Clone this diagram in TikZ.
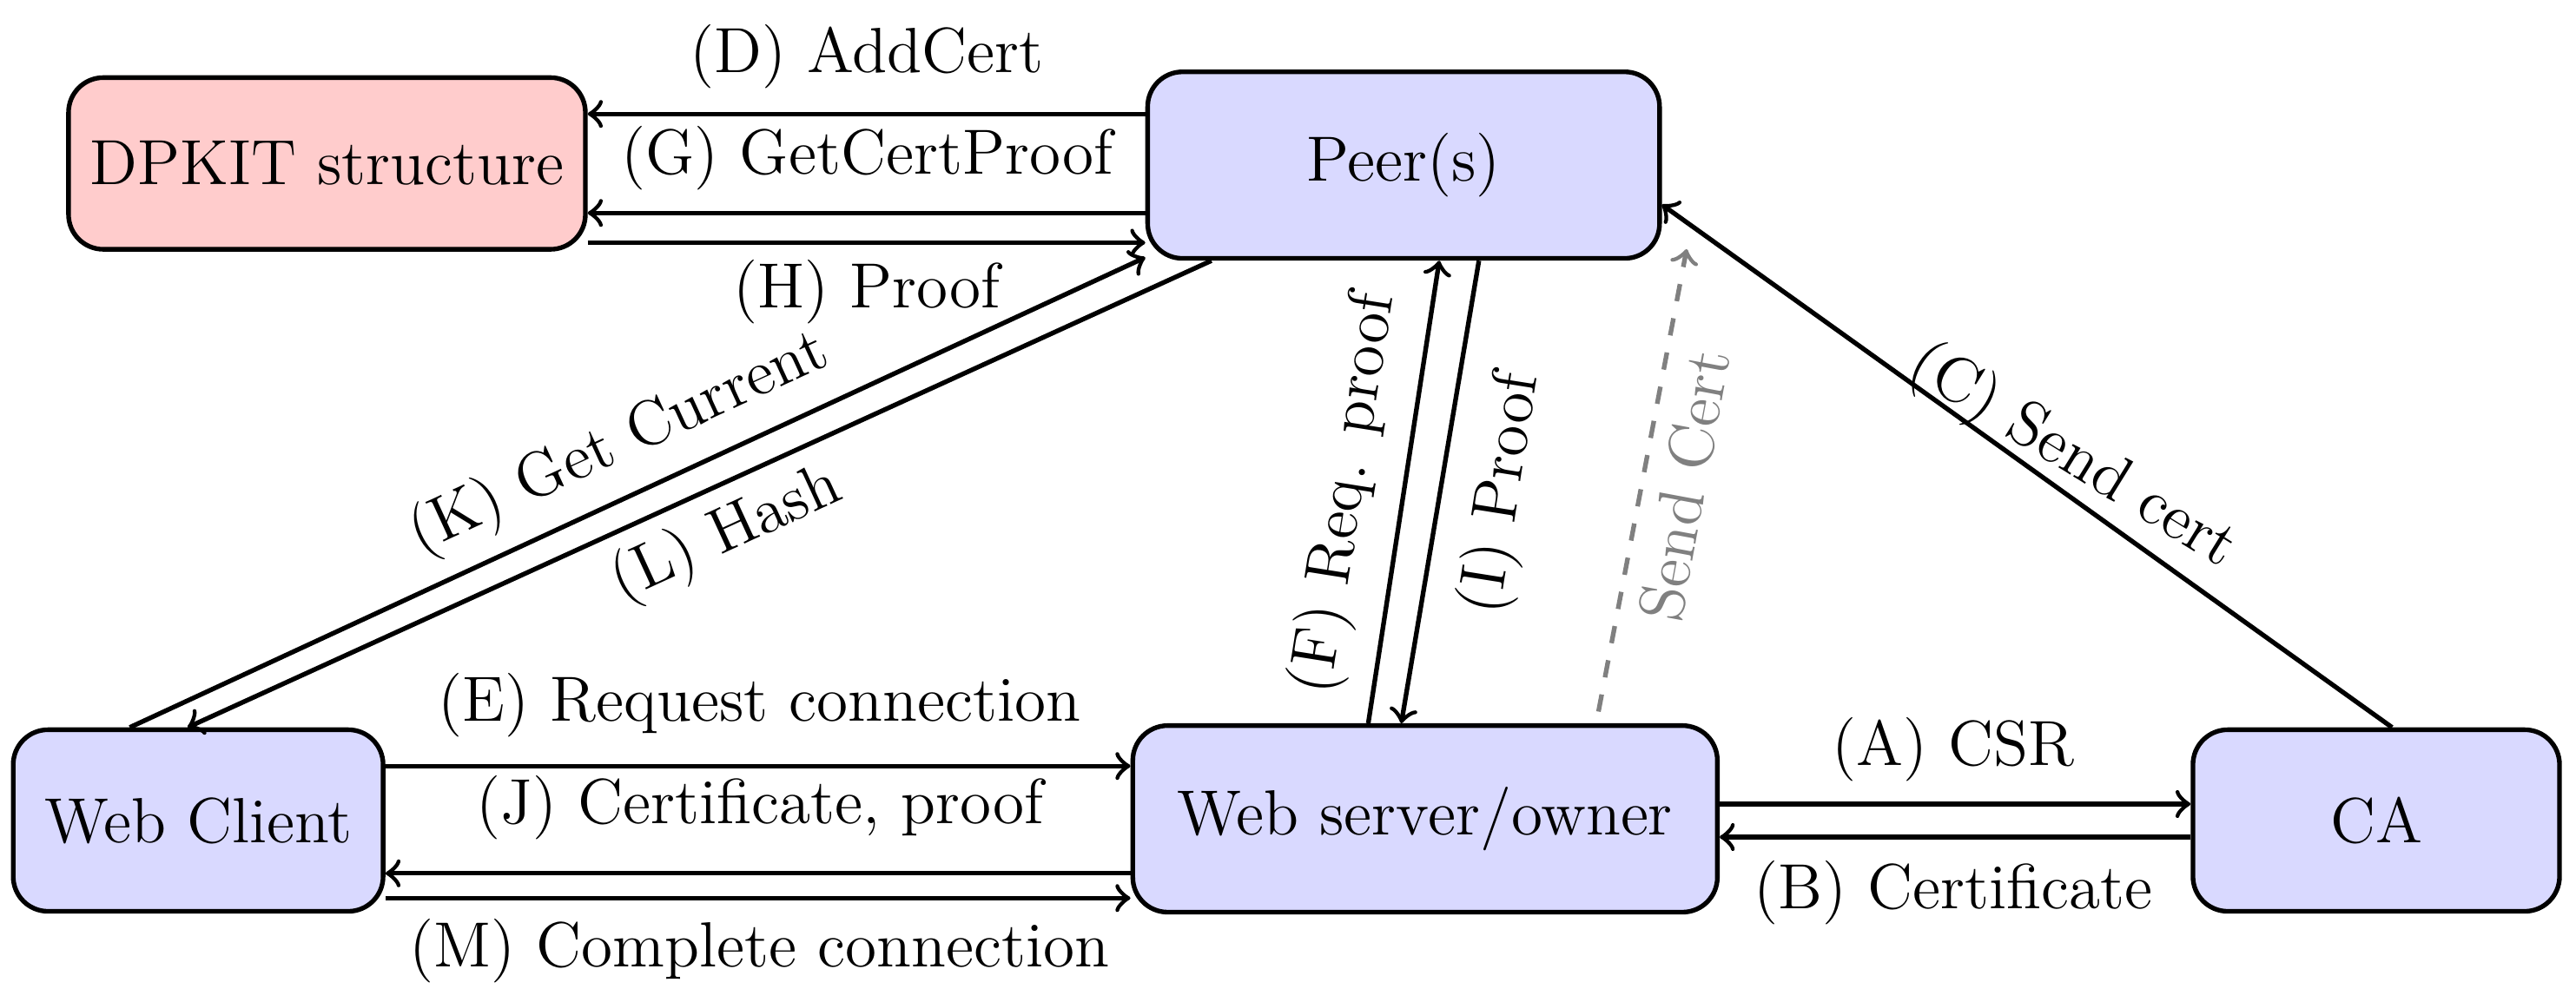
\documentclass[tikz,border=0pt]{standalone}
\usetikzlibrary{calc}
\begin{document}
\begin{tikzpicture}[font=\fontsize{11}{13}\selectfont,
  box/.style={draw, thick, rounded corners=6pt, fill=blue!15, inner sep=1pt, minimum height=1.1cm},
  arr/.style={thick, ->}]
\useasboundingbox (0,0) rectangle (15.6,5.99);

\node[box, fill=red!20, minimum width=3.13cm, minimum height=1.04cm] (dpkit) at (1.98,5.0) {DPKIT structure};
\node[box, minimum width=3.10cm, minimum height=1.13cm] (peer) at (8.50,4.99) {Peer(s)};
\node[box, minimum width=2.24cm] (client) at (1.20,1.02) {Web Client};
\node[box, minimum width=3.54cm, minimum height=1.13cm] (server) at (8.63,1.03) {Web server/owner};
\node[box, minimum width=2.22cm] (ca) at (14.39,1.02) {CA};

% DPKIT <-> Peer
\draw[arr] (peer.west |- 0,5.30) -- (dpkit.east |- 0,5.30);
\draw[arr] (peer.west |- 0,4.70) -- (dpkit.east |- 0,4.70);
\draw[arr] (dpkit.east |- 0,4.52) -- (peer.west |- 0,4.52);
\node at (5.25,5.65) {(D) AddCert};
\node at (5.25,5.03) {(G) GetCertProof};
\node at (5.25,4.22) {(H) Proof};

% Client <-> Peer
\draw[arr] ($(client.north west)+(0.72,0)$) -- ($(peer.south west)+(0,0.02)$);
\draw[arr] ($(peer.south west)+(0.40,0)$) -- ($(client.north west)+(1.07,0)$);
\node[rotate=24.7] at (3.75,3.30) {(K) Get Current};
\node[rotate=24.7] at (4.40,2.75) {(L) Hash};

% Server <-> Peer
\draw[arr] ($(server.north west)+(1.44,0)$) -- ($(peer.south west)+(1.78,0)$);
\draw[arr] ($(peer.south west)+(2.02,0)$) -- ($(server.north west)+(1.64,0)$);
\node[rotate=81] at (8.15,3.00) {(F) Req. proof};
\node[rotate=81] at (9.10,3.00) {(I) Proof};

% Send Cert
\draw[arr, dashed, gray] (9.68,1.68) -- ($(peer.south east)+(0.15,0.07)$);
\node[rotate=79.5, gray] at (10.20,3.05) {Send Cert};

% CA -> Peer
\draw[arr] ($(ca.north west)+(1.22,0)$) -- ($(peer.south east)+(0,0.34)$);
\node[rotate=-31.7] at (12.55,3.22) {(C) Send cert};

% Client <-> Server
\draw[arr] (client.east |- 0,1.35) -- (server.west |- 0,1.35);
\draw[arr] (server.west |- 0,0.70) -- (client.east |- 0,0.70);
\draw[arr] (client.east |- 0,0.55) -- (server.west |- 0,0.55);
\node at (4.60,1.72) {(E) Request connection};
\node at (4.60,1.10) {(J) Certificate, proof};
\node at (4.60,0.23) {(M) Complete connection};

% Server <-> CA
\draw[arr] (server.east |- 0,1.12) -- (ca.west |- 0,1.12);
\draw[arr] (ca.west |- 0,0.92) -- (server.east |- 0,0.92);
\node at (11.83,1.45) {(A) CSR};
\node at (11.83,0.58) {(B) Certificate};
\end{tikzpicture}
\end{document}
